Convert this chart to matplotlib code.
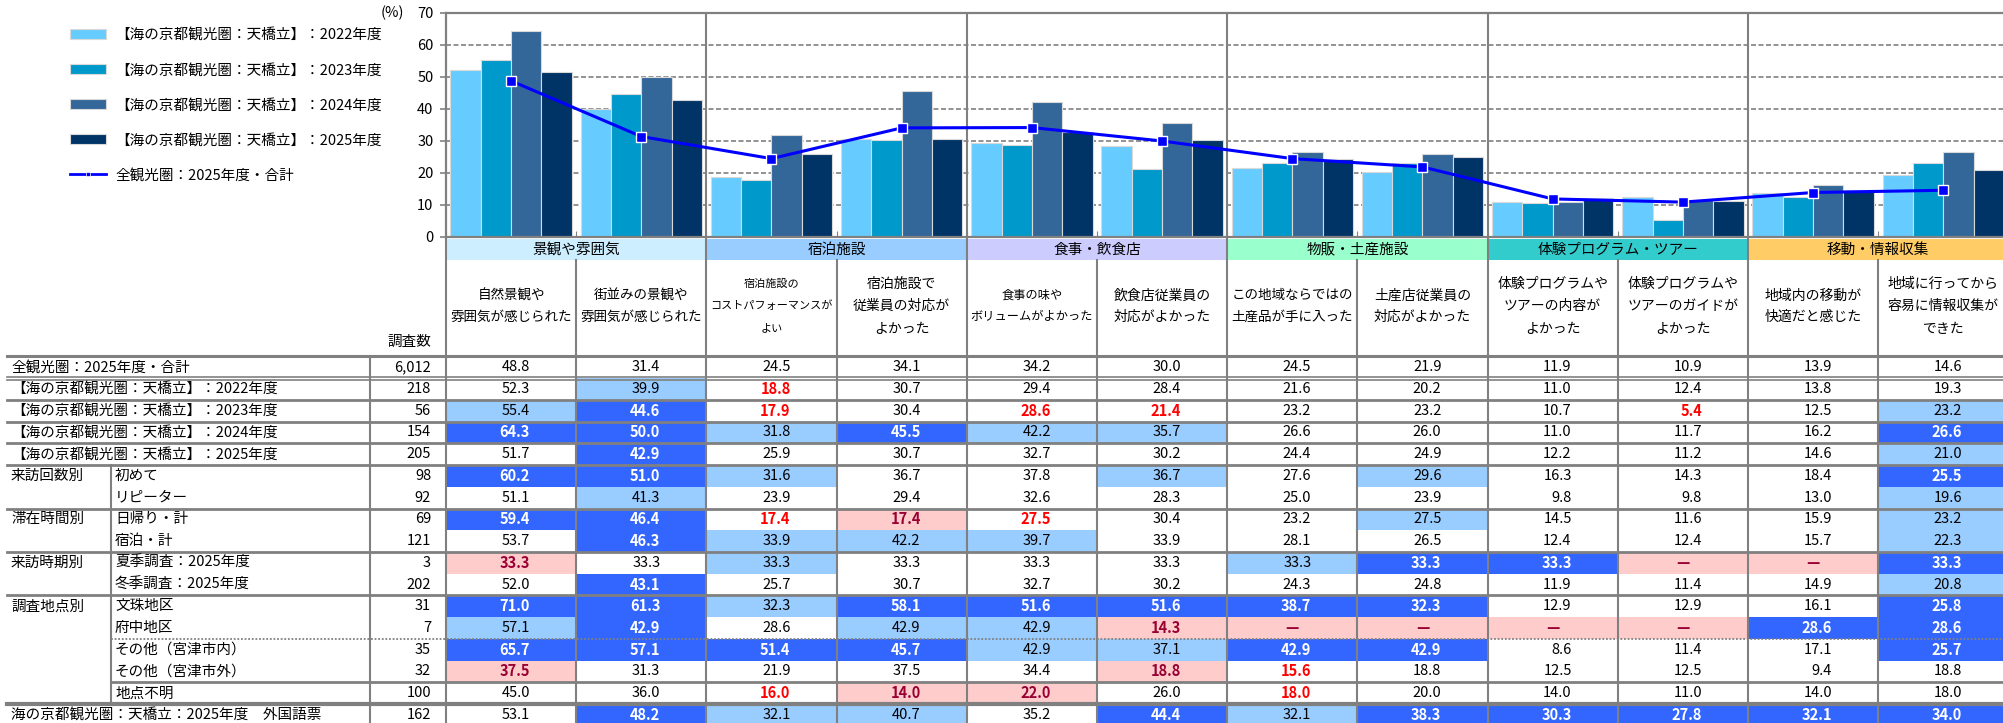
import matplotlib
matplotlib.use('Agg')
import matplotlib.pyplot as plt
from matplotlib.patches import Rectangle
from matplotlib.lines import Line2D
import numpy as np

plt.rcParams['font.family'] = ['Noto Sans CJK JP', 'DejaVu Sans']

# ---- data ----
groups = ['景観や雰囲気', '宿泊施設', '食事・飲食店', '物販・土産施設', '体験プログラム・ツアー', '移動・情報収集']
group_colors = ['#CCEEFF', '#99CCFF', '#CCCCFF', '#99FFCC', '#33CCCC', '#FFCC66']
items = ['自然景観や\n雰囲気が感じられた', '街並みの景観や\n雰囲気が感じられた',
         '宿泊施設の\nコストパフォーマンスが\nよい', '宿泊施設で\n従業員の対応が\nよかった',
         '食事の味や\nボリュームがよかった', '飲食店従業員の\n対応がよかった',
         'この地域ならではの\n土産品が手に入った', '土産店従業員の\n対応がよかった',
         '体験プログラムや\nツアーの内容が\nよかった', '体験プログラムや\nツアーのガイドが\nよかった',
         '地域内の移動が\n快適だと感じた', '地域に行ってから\n容易に情報収集が\nできた']

series_names = ['【海の京都観光圏：天橋立】：2022年度', '【海の京都観光圏：天橋立】：2023年度',
                '【海の京都観光圏：天橋立】：2024年度', '【海の京都観光圏：天橋立】：2025年度']
series_colors = ['#66CCFF', '#0099CC', '#336699', '#003366']
v2022 = [52.3, 39.9, 18.8, 30.7, 29.4, 28.4, 21.6, 20.2, 11.0, 12.4, 13.8, 19.3]
v2023 = [55.4, 44.6, 17.9, 30.4, 28.6, 21.4, 23.2, 23.2, 10.7, 5.4, 12.5, 23.2]
v2024 = [64.3, 50.0, 31.8, 45.5, 42.2, 35.7, 26.6, 26.0, 11.0, 11.7, 16.2, 26.6]
v2025 = [51.7, 42.9, 25.9, 30.7, 32.7, 30.2, 24.4, 24.9, 12.2, 11.2, 14.6, 21.0]
line_name = '全観光圏：2025年度・合計'
total = [48.8, 31.4, 24.5, 34.1, 34.2, 30.0, 24.5, 21.9, 11.9, 10.9, 13.9, 14.6]

row_main = ['全観光圏：2025年度・合計', '【海の京都観光圏：天橋立】：2022年度', '【海の京都観光圏：天橋立】：2023年度',
            '【海の京都観光圏：天橋立】：2024年度', '【海の京都観光圏：天橋立】：2025年度',
            '来訪回数別', '', '滞在時間別', '', '来訪時期別', '', '調査地点別', '', '', '', '',
            '海の京都観光圏：天橋立：2025年度　外国語票']
row_sub = ['', '', '', '', '', '初めて', 'リピーター', '日帰り・計', '宿泊・計', '夏季調査：2025年度',
           '冬季調査：2025年度', '文珠地区', '府中地区', 'その他（宮津市内）', 'その他（宮津市外）', '地点不明', '']
row_n = ['6,012', '218', '56', '154', '205', '98', '92', '69', '121', '3', '202', '31', '7', '35', '32', '100', '162']
table_vals = [
    '48.8 31.4 24.5 34.1 34.2 30.0 24.5 21.9 11.9 10.9 13.9 14.6',
    '52.3 39.9 18.8 30.7 29.4 28.4 21.6 20.2 11.0 12.4 13.8 19.3',
    '55.4 44.6 17.9 30.4 28.6 21.4 23.2 23.2 10.7 5.4 12.5 23.2',
    '64.3 50.0 31.8 45.5 42.2 35.7 26.6 26.0 11.0 11.7 16.2 26.6',
    '51.7 42.9 25.9 30.7 32.7 30.2 24.4 24.9 12.2 11.2 14.6 21.0',
    '60.2 51.0 31.6 36.7 37.8 36.7 27.6 29.6 16.3 14.3 18.4 25.5',
    '51.1 41.3 23.9 29.4 32.6 28.3 25.0 23.9 9.8 9.8 13.0 19.6',
    '59.4 46.4 17.4 17.4 27.5 30.4 23.2 27.5 14.5 11.6 15.9 23.2',
    '53.7 46.3 33.9 42.2 39.7 33.9 28.1 26.5 12.4 12.4 15.7 22.3',
    '33.3 33.3 33.3 33.3 33.3 33.3 33.3 33.3 33.3 — — 33.3',
    '52.0 43.1 25.7 30.7 32.7 30.2 24.3 24.8 11.9 11.4 14.9 20.8',
    '71.0 61.3 32.3 58.1 51.6 51.6 38.7 32.3 12.9 12.9 16.1 25.8',
    '57.1 42.9 28.6 42.9 42.9 14.3 — — — — 28.6 28.6',
    '65.7 57.1 51.4 45.7 42.9 37.1 42.9 42.9 8.6 11.4 17.1 25.7',
    '37.5 31.3 21.9 37.5 34.4 18.8 15.6 18.8 12.5 12.5 9.4 18.8',
    '45.0 36.0 16.0 14.0 22.0 26.0 18.0 20.0 14.0 11.0 14.0 18.0',
    '53.1 48.2 32.1 40.7 35.2 44.4 32.1 38.3 30.3 27.8 32.1 34.0',
]
# n: plain, l: light blue, d: dark blue, p: pink, r: red text
table_marks = ['nnnnnnnnnnnn', 'nlrnnnnnnnnn', 'ldrnrrnnnrnl', 'ddldllnnnnnd', 'ndnnnnnnnnnl',
               'ddlnnlnlnnnd', 'nlnnnnnnnnnl', 'ddrprnnlnnnl', 'ndlllnnnnnnl', 'pnlnnnlddppd',
               'ndnnnnnnnnnl', 'ddldddddnnnd', 'ldnllpppppdd', 'ddddllddnnnd', 'pnnnnprnnnnn',
               'nnrppnrnnnnn', 'ndllndlddddd']
styles = {'n': (None, '#000000', 'normal'), 'l': ('#99CCFF', '#000000', 'normal'),
          'd': ('#3366FF', 'white', 'bold'), 'p': ('#FFCCCC', '#990033', 'bold'),
          'r': (None, '#FF0000', 'bold')}

# ---- layout (pixels) ----
W, H = 2003, 723
x0, cw = 446, 130.2
y_zero, y_top = 237, 13
top0, rh = 356.4, 21.73
gray = '#808080'

fig = plt.figure(figsize=(W / 100, H / 100), dpi=100)
tab = fig.add_axes([0, 0, 1, 1], zorder=0)
tab.set_xlim(0, W)
tab.set_ylim(H, 0)
tab.axis('off')

ax = fig.add_axes([x0 / W, 1 - y_zero / H, 12 * cw / W, (y_zero - y_top) / H], zorder=1)
n = len(items)
x = np.arange(n) + 0.5
bw = 0.233
bars = []
for j, (vals, c, name) in enumerate(zip([v2022, v2023, v2024, v2025], series_colors, series_names)):
    b = ax.bar(x + (j - 1.5) * bw, vals, bw, color=c, edgecolor='#D9D9D9', linewidth=0.8, label=name, zorder=2)
    bars.append(b)
ax.plot(x, total, color='#0000FF', lw=2.2, marker='s', ms=7.5, mfc='#0000FF', mec='white', mew=1, zorder=4)
ax.set_xlim(0, n)
ax.set_ylim(0, 70)
ax.set_yticks(range(0, 71, 10))
ax.grid(axis='y', ls=(0, (3, 1.5)), color=gray, lw=1.2, zorder=1)
ax.set_axisbelow(True)
for k in range(2, n, 2):
    ax.axvline(k, color=gray, lw=1.5, zorder=3)
ax.set_xticks(range(0, n + 1))
ax.set_xticklabels([])
ax.tick_params(axis='x', direction='in', length=4, color=gray)
ax.tick_params(axis='y', length=4, width=1.2, color=gray, labelsize=10.5, pad=5)
for s in ['left', 'bottom', 'top']:
    ax.spines[s].set_color(gray)
    ax.spines[s].set_linewidth(1.6)
ax.spines['right'].set_visible(False)
ax.annotate('(%)', xy=(0, 70), xytext=(-30, 0), textcoords='offset points', ha='right', va='center',
            fontsize=10.5, annotation_clip=False)

# legend
proxy = Line2D([], [], color='#0000FF', lw=2, marker='s', ms=3.5, mfc='#0000FF', mec='white', mew=0.5)
fig.legend(bars + [proxy], series_names + [line_name], loc='upper left',
           bbox_to_anchor=(70 / W, 1 - 28 / H), frameon=False, fontsize=10.5, handlelength=2.5,
           handleheight=0.7, handletextpad=0.6, labelspacing=1.45, borderpad=0, borderaxespad=0)

# ---- table ----
band_top, band_bot = 239, 260
for g, (name, col) in enumerate(zip(groups, group_colors)):
    gx = x0 + 2 * g * cw
    tab.add_patch(Rectangle((gx, band_top), 2 * cw, band_bot - band_top, facecolor=col, edgecolor='none'))
    tab.text(gx + cw, (band_top + band_bot) / 2, name, ha='center', va='center', fontsize=10.5)
for i, it in enumerate(items):
    cx = x0 + (i + 0.5) * cw
    lines = it.split('\n')
    maxlen = max(len(s) for s in lines)
    fs = min(10, 122 / (maxlen * 100 / 72))
    pitch = 22.5 if len(lines) > 2 else 21
    for k, s in enumerate(lines):
        yy = 306 + (k - (len(lines) - 1) / 2) * pitch
        tab.text(cx, yy, s, ha='center', va='center', fontsize=fs)
tab.text(431, 342, '調査数', ha='right', va='center', fontsize=10.5)

for r in range(len(row_n)):
    yt = top0 + r * rh
    yc = yt + rh / 2
    vals = table_vals[r].split()
    for i, (v, m) in enumerate(zip(vals, table_marks[r])):
        bg, tc, fw = styles[m]
        cx0 = x0 + i * cw
        if bg:
            tab.add_patch(Rectangle((cx0, yt), cw, rh, facecolor=bg, edgecolor='none'))
        if v == '—':
            tab.text(cx0 + cw / 2, yc, v, ha='center', va='center', fontsize=10.5, color=tc, fontweight=fw)
        else:
            tab.text(cx0 + cw / 2 + 19, yc, v, ha='right', va='center', fontsize=10.5, color=tc, fontweight=fw)
    tab.text(431, yc, row_n[r], ha='right', va='center', fontsize=10.5)
    if row_main[r]:
        tab.text(11, yc, row_main[r], ha='left', va='center', fontsize=10.5)
    if row_sub[r]:
        tab.text(115, yc, row_sub[r], ha='left', va='center', fontsize=10.5)

def row_top(k):
    return top0 + k * rh

tab.plot([7, W], [356, 356], color=gray, lw=2.2)
tab.plot([7, W], [row_top(1) - 1.6] * 2, color=gray, lw=1.2)
tab.plot([7, W], [row_top(1) + 1.6] * 2, color=gray, lw=1.2)
for k in [2, 3, 4, 5, 7, 9, 11]:
    tab.plot([7, W], [row_top(k)] * 2, color=gray, lw=2.0)
tab.plot([111, W], [row_top(13)] * 2, color=gray, lw=1.3, ls=(0, (1, 1)))
tab.plot([111, W], [row_top(15)] * 2, color=gray, lw=2.0)
tab.plot([7, W], [row_top(16)] * 2, color=gray, lw=3.0)

tab.plot([111, 111], [row_top(5), row_top(16)], color=gray, lw=1.5)
tab.plot([370, 370], [356, H], color=gray, lw=1.5)
for j in range(n + 1):
    xx = x0 + j * cw
    yy0 = band_top if j % 2 == 0 else band_bot
    tab.plot([xx, xx], [yy0, H], color=gray, lw=1.5)

fig.savefig('out.png', dpi=100)
